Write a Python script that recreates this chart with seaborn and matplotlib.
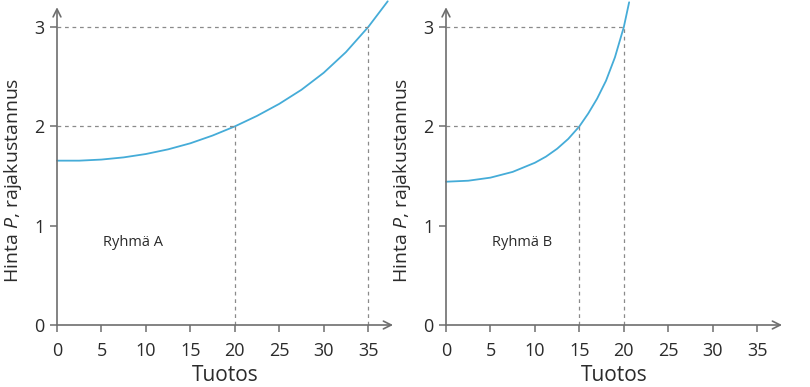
import numpy as np
import pandas as pd
import matplotlib
matplotlib.use("Agg")
import matplotlib.pyplot as plt
import seaborn as sns

# Data
xa = [0, 2.5, 5, 7.5, 10, 12.5, 15, 17.5, 20, 22.5, 25, 27.5, 30, 32.5, 35, 37.2]
ya = [1.655, 1.655, 1.666, 1.688, 1.722, 1.769, 1.83, 1.908, 2.0, 2.106, 2.227,
      2.369, 2.54, 2.748, 3.0, 3.26]
xb = [0, 2.5, 5, 7.5, 10, 11.25, 12.5, 13.75, 15, 16, 17, 18, 19, 20, 20.6]
yb = [1.443, 1.453, 1.484, 1.542, 1.634, 1.696, 1.775, 1.874, 2.0, 2.13, 2.28,
      2.46, 2.695, 3.0, 3.25]
groups = ["Ryhmä A", "Ryhmä B"]
# dashed reference points (x at y=2, x at y=3)
ref_x = [(20, 35), (15, 20)]
ref_y = (2, 3)
xticks = [0, 5, 10, 15, 20, 25, 30, 35]
yticks = [0, 1, 2, 3]

sns.set_theme(style="white")
plt.rcParams['font.family'] = ['Open Sans', 'DejaVu Sans']
plt.rcParams['mathtext.fontset'] = 'custom'
plt.rcParams['mathtext.it'] = 'Open Sans:italic'
plt.rcParams['mathtext.rm'] = 'Open Sans'

W, H = 810, 387
fig = plt.figure(figsize=(W / 100, H / 100), dpi=100)

axis_col = "#6e6e6e"
curve_col = "#45acd8"
dash_col = "#8a8a8a"
txt_col = "#2b2b2b"

px_x = 8.89
px_y = 99.3
xmax = 37.8
ymax = 3.27
origins = [(57, 325), (446, 325)]
curves = [(xa, ya), (xb, yb)]

for i in range(2):
    ox, oy = origins[i]
    ax = fig.add_axes([ox / W, (H - oy) / H, xmax * px_x / W, ymax * px_y / H])
    ax.patch.set_alpha(0)
    x, y = curves[i]
    df = pd.DataFrame({"Tuotos": x, "Hinta": y})
    sns.lineplot(data=df, x="Tuotos", y="Hinta", ax=ax, color=curve_col,
                 lw=1.3, clip_on=False, estimator=None, sort=True)
    ax.lines[-1].set_solid_joinstyle("round")

    xr = ref_x[i]
    for xv, yv in zip(xr, ref_y):
        ax.plot([0, xv], [yv, yv], ls=(0, (3, 3)), color=dash_col, lw=0.9)
        ax.plot([xv, xv], [0, yv], ls=(0, (3, 3)), color=dash_col, lw=0.9)

    ax.set_xlim(0, xmax)
    ax.set_ylim(0, ymax)
    for s in ax.spines.values():
        s.set_visible(False)
    ax.annotate("", xy=(xmax, 0), xytext=(0, 0),
                arrowprops=dict(arrowstyle="->", color=axis_col, lw=1.2,
                                shrinkA=0, shrinkB=0, mutation_scale=14))
    ax.annotate("", xy=(0, 3.2), xytext=(0, 0),
                arrowprops=dict(arrowstyle="->", color=axis_col, lw=1.2,
                                shrinkA=0, shrinkB=0, mutation_scale=14))
    ax.set_xticks(xticks)
    ax.set_yticks(yticks)
    ax.tick_params(axis="both", direction="out", length=5, width=1.1,
                   color=axis_col, labelcolor=txt_col, labelsize=13,
                   bottom=True, left=True)
    ax.tick_params(axis="x", pad=7)
    ax.tick_params(axis="y", pad=4)
    ax.set_xlabel("Tuotos", fontsize=15, color=txt_col, labelpad=4)
    ax.set_ylabel("Hinta $P$, rajakustannus", fontsize=14, color=txt_col)
    ax.yaxis.set_label_coords(-33 / (xmax * px_x), 1.46 / ymax)
    ax.text(8.6, 0.83, groups[i], fontsize=10.5, color=txt_col,
            ha="center", va="center")

fig.savefig("out.png", dpi=100)
